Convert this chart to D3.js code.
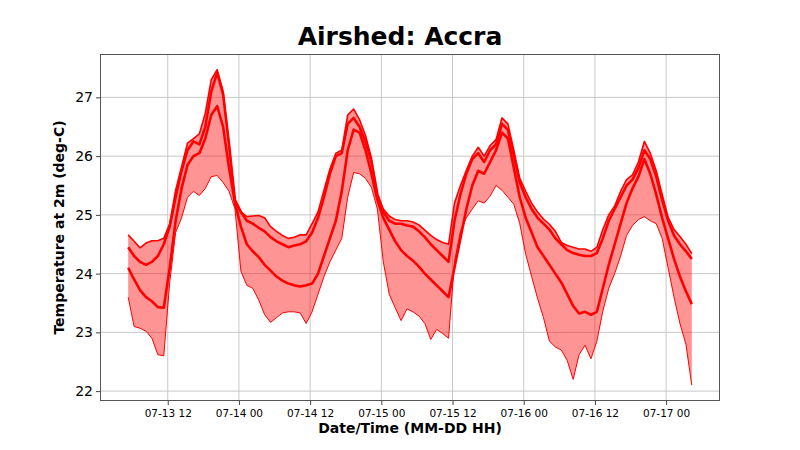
<!DOCTYPE html>
<html>
<head>
<meta charset="utf-8">
<script src="https://cdn.jsdelivr.net/npm/d3@7"></script>
<style>
  body { margin: 0; background: #fff; }
  svg { font-family: "DejaVu Sans", sans-serif; }
</style>
</head>
<body>
<svg id="chart" width="800" height="450"></svg>
<script>
        // hourly values, first point 07-13 05:20
        var startTime = new Date(2021, 6, 13, 5, 20);

        // upper edge of the ensemble
        var memberTop = [24.66, 24.55, 24.44, 24.52, 24.56, 24.56, 24.6, 24.85, 25.42, 25.82,
            26.22, 26.3, 26.38, 26.73, 27.3, 27.47, 27.1, 26.2, 25.2, 25.05,
            24.97, 24.98, 24.99, 24.95, 24.8, 24.72, 24.65, 24.6, 24.62, 24.66,
            24.66, 24.85, 25.05, 25.42, 25.78, 26.05, 26.1, 26.7, 26.8, 26.62,
            26.35, 25.97, 25.35, 25.1, 24.98, 24.92, 24.9, 24.9, 24.88, 24.83,
            24.74, 24.65, 24.58, 24.53, 24.5, 25.2, 25.5, 25.76, 26.0, 26.15,
            26.0, 26.18, 26.28, 26.65, 26.55, 26.1, 25.62, 25.4, 25.2, 25.05,
            24.93, 24.84, 24.72, 24.53, 24.48, 24.45, 24.42, 24.42, 24.38, 24.45,
            24.75, 25.0, 25.15, 25.4, 25.6, 25.68, 25.9, 26.25, 26.05, 25.75,
            25.35, 24.96, 24.75, 24.63, 24.5, 24.34];

        // dense band just under the top
        var memberUpper = [24.45, 24.3, 24.2, 24.15, 24.2, 24.3, 24.5, 24.8, 25.3, 25.75,
            26.1, 26.25, 26.2, 26.5, 27.1, 27.42, 27.05, 26.2, 25.25, 25.05,
            24.9, 24.85, 24.78, 24.72, 24.62, 24.55, 24.5, 24.45, 24.48, 24.5,
            24.55, 24.7, 24.95, 25.3, 25.7, 26.0, 26.05, 26.55, 26.65, 26.5,
            26.25, 25.9, 25.35, 25.05, 24.9, 24.85, 24.85, 24.82, 24.8, 24.72,
            24.62, 24.5, 24.4, 24.3, 24.2, 24.9, 25.35, 25.7, 25.95, 26.05,
            25.9, 26.1, 26.2, 26.55, 26.45, 26.0, 25.55, 25.3, 25.1, 24.95,
            24.85, 24.75, 24.6, 24.5, 24.4, 24.35, 24.32, 24.3, 24.3, 24.35,
            24.6, 24.9, 25.1, 25.3, 25.5, 25.6, 25.8, 26.1, 25.95, 25.65,
            25.25, 24.9, 24.65, 24.5, 24.38, 24.25];

        // dense band in the middle
        var memberMid = [24.1, 23.9, 23.72, 23.6, 23.53, 23.43, 23.42, 24.1, 24.9, 25.45,
            25.85, 26.0, 26.05, 26.3, 26.7, 26.85, 26.5, 25.8, 25.2, 24.8,
            24.5, 24.38, 24.28, 24.15, 24.05, 23.95, 23.88, 23.83, 23.8, 23.78,
            23.8, 23.83, 24.0, 24.3, 24.6, 24.9, 25.4, 26.1, 26.45, 26.4,
            26.1, 25.7, 25.25, 24.95, 24.75, 24.55, 24.4, 24.3, 24.22, 24.12,
            24.0, 23.9, 23.8, 23.7, 23.6, 24.1, 24.6, 25.1, 25.5, 25.75,
            25.7, 25.9, 26.1, 26.4, 26.3, 25.8, 25.3, 24.95, 24.7, 24.45,
            24.3, 24.15, 24.0, 23.85, 23.65, 23.45, 23.32, 23.35, 23.3, 23.35,
            23.75, 24.15, 24.5, 24.85, 25.2, 25.45, 25.65, 25.95, 25.7, 25.35,
            24.95, 24.6, 24.25, 23.95, 23.7, 23.48];

        // lower edge of the ensemble
        var memberBottom = [23.6, 23.1, 23.07, 23.02, 22.9, 22.62, 22.6, 23.85, 24.7, 24.95,
            25.3, 25.4, 25.33, 25.45, 25.65, 25.67, 25.55, 25.4, 25.1, 24.04,
            23.8, 23.75, 23.55, 23.3, 23.17, 23.25, 23.33, 23.35, 23.35, 23.33,
            23.15, 23.35, 23.65, 23.95, 24.2, 24.4, 24.6, 25.3, 25.72, 25.7,
            25.62, 25.47, 25.1, 24.2, 23.65, 23.42, 23.2, 23.4, 23.35, 23.28,
            23.15, 22.88, 23.05, 22.98, 22.9, 24.2, 24.72, 24.95, 25.1, 25.24,
            25.2, 25.32, 25.5, 25.42, 25.3, 25.18, 24.85, 24.33, 23.95, 23.58,
            23.25, 22.85, 22.75, 22.7, 22.52, 22.2, 22.62, 22.78, 22.55, 22.85,
            23.36, 23.75, 24.0, 24.3, 24.65, 24.82, 24.92, 24.97, 24.9, 24.85,
            24.6, 24.1, 23.6, 23.15, 22.8, 22.1];

        var yTicks = [22, 23, 24, 25, 26, 27];
        var xTickLabels = ["07-13 12", "07-14 00", "07-14 12", "07-15 00",
            "07-15 12", "07-16 00", "07-16 12", "07-17 00"];

        var members = [
            {name: "top", values: memberTop, width: 1.6},
            {name: "upper", values: memberUpper, width: 2.6},
            {name: "mid", values: memberMid, width: 2.6},
            {name: "bottom", values: memberBottom, width: 1}
        ];

        var svg = d3.select("#chart"),
            width = +svg.attr("width"),
            height = +svg.attr("height");

        var margin = {top: 54, right: 80, bottom: 49, left: 100};
        var plotW = width - margin.left - margin.right,
            plotH = height - margin.top - margin.bottom;

        var times = memberTop.map(function(d, i) { return d3.timeHour.offset(startTime, i); });

        // matplotlib style 5% padding on both axes
        var tExt = d3.extent(times);
        var tPad = (tExt[1] - tExt[0]) * 0.05;
        var x = d3.scaleTime()
            .domain([new Date(+tExt[0] - tPad), new Date(+tExt[1] + tPad)])
            .range([margin.left, margin.left + plotW]);

        var allVals = d3.merge(members.map(function(m) { return m.values; }));
        var yExt = d3.extent(allVals);
        var yPad = (yExt[1] - yExt[0]) * 0.05;
        var y = d3.scaleLinear()
            .domain([yExt[0] - yPad, yExt[1] + yPad])
            .range([margin.top + plotH, margin.top]);

        var parseTick = d3.timeParse("%Y-%m-%d %H");
        var xTicks = xTickLabels.map(function(s) { return parseTick("2021-" + s); });

        // grid
        var grid = svg.append("g").attr("class", "grid");
        grid.selectAll("line.gx")
            .data(xTicks)
            .enter().append("line")
            .attr("x1", function(d) { return x(d); })
            .attr("x2", function(d) { return x(d); })
            .attr("y1", margin.top)
            .attr("y2", margin.top + plotH)
            .attr("stroke", "#c8c8c8")
            .attr("stroke-width", 1);
        grid.selectAll("line.gy")
            .data(yTicks)
            .enter().append("line")
            .attr("y1", function(d) { return y(d); })
            .attr("y2", function(d) { return y(d); })
            .attr("x1", margin.left)
            .attr("x2", margin.left + plotW)
            .attr("stroke", "#c8c8c8")
            .attr("stroke-width", 1);

        // spread of the ensemble (min to max of the members at each hour)
        var spread = times.map(function(t, i) {
            return {
                t: t,
                lo: d3.min(members, function(m) { return m.values[i]; }),
                hi: d3.max(members, function(m) { return m.values[i]; })
            };
        });

        var area = d3.area()
            .x(function(d) { return x(d.t); })
            .y0(function(d) { return y(d.lo); })
            .y1(function(d) { return y(d.hi); });

        svg.append("path")
            .datum(spread)
            .attr("d", area)
            .attr("fill", "#ff0000")
            .attr("fill-opacity", 0.42);

        var line = d3.line()
            .x(function(d, i) { return x(times[i]); })
            .y(function(d) { return y(d); });

        svg.append("g")
            .attr("class", "members")
            .selectAll("path")
            .data(members)
            .enter().append("path")
            .attr("d", function(d) { return line(d.values); })
            .attr("fill", "none")
            .attr("stroke", "#ff0000")
            .attr("stroke-width", function(d) { return d.width; })
            .attr("stroke-linejoin", "round");

        // axes
        var xAxis = svg.append("g")
            .attr("transform", "translate(0," + (margin.top + plotH) + ")")
            .call(d3.axisBottom(x)
                .tickValues(xTicks)
                .tickFormat(d3.timeFormat("%m-%d %H"))
                .tickSize(4)
                .tickSizeOuter(0));
        xAxis.select(".domain").remove();
        xAxis.selectAll("text")
            .attr("dy", "0.9em")
            .style("font-size", "10.5px")
            .style("font-family", "DejaVu Sans")
            .attr("fill", "#000");
        xAxis.selectAll("line").attr("stroke", "#444");

        var yAxis = svg.append("g")
            .attr("transform", "translate(" + margin.left + ",0)")
            .call(d3.axisLeft(y)
                .tickValues(yTicks)
                .tickFormat(d3.format("d"))
                .tickSize(4)
                .tickSizeOuter(0));
        yAxis.select(".domain").remove();
        yAxis.selectAll("text")
            .attr("x", -7)
            .style("font-size", "14px")
            .style("font-family", "DejaVu Sans")
            .attr("fill", "#000");
        yAxis.selectAll("line").attr("stroke", "#444");

        // frame
        svg.append("rect")
            .attr("x", margin.left + 0.5)
            .attr("y", margin.top + 0.5)
            .attr("width", plotW - 1)
            .attr("height", plotH - 1)
            .attr("fill", "none")
            .attr("stroke", "#555")
            .attr("stroke-width", 1);

        // titles
        svg.append("text")
            .attr("x", width / 2)
            .attr("y", 45)
            .attr("text-anchor", "middle")
            .style("font-size", "25px")
            .style("font-weight", "bold")
            .text("Airshed: Accra");

        svg.append("text")
            .attr("x", margin.left + plotW / 2)
            .attr("y", 433)
            .attr("text-anchor", "middle")
            .style("font-size", "14px")
            .style("font-weight", "bold")
            .text("Date/Time (MM-DD HH)");

        svg.append("text")
            .attr("transform", "translate(64," + (margin.top + plotH / 2) + ") rotate(-90)")
            .attr("text-anchor", "middle")
            .style("font-size", "14px")
            .style("font-weight", "bold")
            .text("Temperature at 2m (deg-C)");
</script>
</body>
</html>
